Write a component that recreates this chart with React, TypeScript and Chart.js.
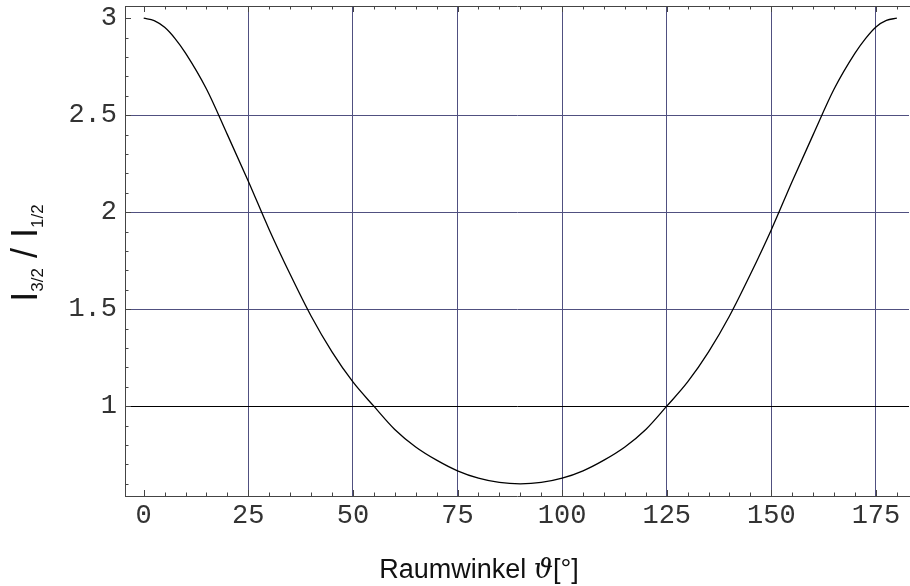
import React, { useEffect, useRef } from "react";
import { Chart, registerables } from "chart.js";

Chart.register(...registerables);

// ---- data ----
const angles = [
  0, 2.5, 5, 7.5, 10, 15, 20, 25, 30, 35, 40, 45, 50, 55, 60, 65, 70, 75, 80,
  85, 90, 95, 100, 105, 110, 115, 120, 125, 130, 135, 140, 145, 150, 155, 160,
  165, 170, 172.5, 175, 177.5, 180,
];
const ratios = [
  3.0, 2.988, 2.953, 2.895, 2.82, 2.635, 2.4, 2.16, 1.91, 1.68, 1.465, 1.28,
  1.125, 1.0, 0.88, 0.79, 0.722, 0.667, 0.629, 0.607, 0.6, 0.607, 0.629, 0.667,
  0.722, 0.79, 0.88, 1.0, 1.125, 1.28, 1.465, 1.68, 1.91, 2.16, 2.4, 2.635,
  2.82, 2.895, 2.955, 2.989, 3.0,
];

const xTickValues = [0, 25, 50, 75, 100, 125, 150, 175];
const xTickLabels = ["0", "25", "50", "75", "100", "125", "150", "175"];
const yTickValues = [1, 1.5, 2, 2.5, 3];
const yTickLabels = ["1", "1.5", "2", "2.5", "3"];

const xTitleText = "Raumwinkel ";
const xTitleSymbol = "\u03D1";
const xTitleUnit = "[°]";
const yTitleMain1 = "I";
const yTitleSub1 = "3/2";
const yTitleMid = " / ";
const yTitleMain2 = "I";
const yTitleSub2 = "1/2";

const xMin = -4.47;
const xMax = 182.9;
const yMin = 0.537;
const yMax = 3.063;

const GRID = "rgb(80,80,128)";
const AXIS = "#444";

const decorPlugin = {
  id: "decor",
  afterDraw(chart: any) {
    const ctx = chart.ctx as CanvasRenderingContext2D;
    const { left, right, top, bottom } = chart.chartArea;
    const xs = chart.scales.x;
    const ys = chart.scales.y;
    ctx.save();
    // top frame line
    ctx.strokeStyle = AXIS;
    ctx.lineWidth = 1;
    ctx.beginPath();
    ctx.moveTo(left, Math.round(top) + 0.5);
    ctx.lineTo(right + 1, Math.round(top) + 0.5);
    ctx.stroke();
    // x minor / major ticks, bottom and top (inside)
    ctx.beginPath();
    for (let v = 0; v <= 180; v += 5) {
      const px = Math.round(xs.getPixelForValue(v)) + 0.5;
      const len = v % 25 === 0 ? 6 : 3.5;
      ctx.moveTo(px, bottom);
      ctx.lineTo(px, bottom - len);
      ctx.moveTo(px, top);
      ctx.lineTo(px, top + len);
    }
    // y ticks on left (inside)
    for (let k = 6; k <= 30; k++) {
      const v = k / 10;
      const py = Math.round(ys.getPixelForValue(v)) + 0.5;
      const len = k % 5 === 0 ? 6 : 3.5;
      ctx.moveTo(left, py);
      ctx.lineTo(left + len, py);
    }
    ctx.stroke();

    // x title
    ctx.fillStyle = "#111";
    ctx.textBaseline = "alphabetic";
    const fMain = '27px "Liberation Sans", Arial, sans-serif';
    const fSym = 'italic 27px "DejaVu Serif", serif';
    ctx.font = fMain;
    const w1 = ctx.measureText(xTitleText).width;
    const w3 = ctx.measureText(xTitleUnit).width;
    ctx.font = fSym;
    const w2 = ctx.measureText(xTitleSymbol).width;
    const total = w1 + w2 + w3;
    let sx = 479 - total / 2;
    const by = 578;
    ctx.font = fMain;
    ctx.fillText(xTitleText, sx, by);
    sx += w1;
    ctx.font = fSym;
    ctx.fillText(xTitleSymbol, sx, by);
    sx += w2;
    ctx.font = fMain;
    ctx.fillText(xTitleUnit, sx, by);

    // y title (rotated)
    const fBig = '36px "Liberation Sans", Arial, sans-serif';
    const fSub = '17px "Liberation Sans", Arial, sans-serif';
    const parts = [
      { t: yTitleMain1, f: fBig, dy: 0 },
      { t: yTitleSub1, f: fSub, dy: 6 },
      { t: yTitleMid, f: fBig, dy: 0 },
      { t: yTitleMain2, f: fBig, dy: 0 },
      { t: yTitleSub2, f: fSub, dy: 6 },
    ];
    let tw = 0;
    const widths = parts.map((p) => {
      ctx.font = p.f;
      const w = ctx.measureText(p.t).width;
      tw += w;
      return w;
    });
    ctx.translate(37, 253);
    ctx.rotate(-Math.PI / 2);
    let lx = -tw / 2;
    parts.forEach((p, i) => {
      ctx.font = p.f;
      ctx.fillText(p.t, lx, p.dy);
      lx += widths[i];
    });
    ctx.restore();
  },
};

export default function App() {
  const ref = useRef<HTMLCanvasElement>(null);
  useEffect(() => {
    document.body.style.margin = "0";
    const data = angles.map((a, i) => ({ x: a, y: ratios[i] }));
    const chart = new Chart(ref.current as HTMLCanvasElement, {
      type: "line",
      data: {
        datasets: [
          {
            data,
            borderColor: "#000",
            borderWidth: 1.3,
            pointRadius: 0,
            cubicInterpolationMode: "monotone",
            fill: false,
          },
        ],
      },
      options: {
        animation: false,
        responsive: false,
        devicePixelRatio: 1,
        layout: { padding: { top: 6, right: 1, left: 0, bottom: 0 } },
        plugins: { legend: { display: false }, tooltip: { enabled: false } },
        scales: {
          x: {
            type: "linear",
            min: xMin,
            max: xMax,
            afterFit: (s: any) => {
              s.height = 90;
              s.paddingLeft = 0;
              s.paddingRight = 0;
            },
            ticks: {
              stepSize: 25,
              includeBounds: false,
              padding: 4,
              maxRotation: 0,
              autoSkip: false,
              color: "#333",
              font: { family: '"Liberation Mono", "Courier New", monospace', size: 27 },
              callback: (v: any) => {
                const i = xTickValues.indexOf(Number(v));
                return i >= 0 ? xTickLabels[i] : "";
              },
            },
            grid: {
              drawTicks: false,
              lineWidth: 1,
              color: (c: any) =>
                c.tick && c.tick.value === 0 ? "rgba(0,0,0,0)" : GRID,
            },
            border: { display: true, color: AXIS, width: 1 },
          },
          y: {
            type: "linear",
            min: yMin,
            max: yMax,
            afterFit: (s: any) => {
              s.width = 125;
              s.paddingTop = 0;
              s.paddingBottom = 0;
            },
            ticks: {
              stepSize: 0.5,
              includeBounds: false,
              padding: 8,
              color: "#333",
              font: { family: '"Liberation Mono", "Courier New", monospace', size: 27 },
              callback: (v: any) => {
                const i = yTickValues.findIndex((t) => Math.abs(t - Number(v)) < 1e-6);
                return i >= 0 ? yTickLabels[i] : "";
              },
            },
            grid: {
              drawTicks: false,
              lineWidth: 1,
              color: (c: any) => {
                const v = c.tick ? c.tick.value : null;
                if (v === null) return GRID;
                if (Math.abs(v - 1) < 1e-6) return "#000";
                if (Math.abs(v - 3) < 1e-6) return "rgba(0,0,0,0)";
                return GRID;
              },
            },
            border: { display: true, color: AXIS, width: 1 },
          },
        },
      },
      plugins: [decorPlugin],
    });
    return () => chart.destroy();
  }, []);
  return (
    <div style={{ position: "absolute", left: 0, top: 0, width: 910, height: 586 }}>
      <canvas ref={ref} width={910} height={586} style={{ display: "block" }} />
    </div>
  );
}
